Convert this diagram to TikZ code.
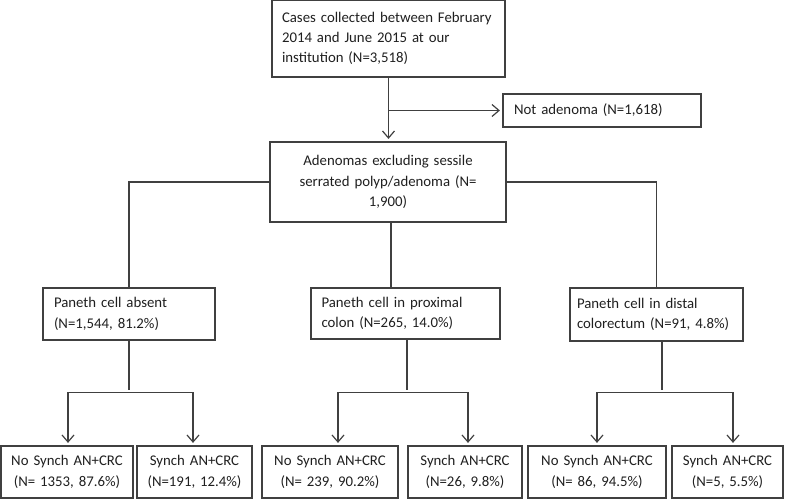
\documentclass[tikz,border=0pt]{standalone}
\usepackage{fontspec}
\setmainfont{Carlito}
\usepackage{tikz}
\usetikzlibrary{arrows.meta}
\definecolor{linegray}{HTML}{404040}

\begin{document}
\begin{tikzpicture}[x=1pt,y=-1pt]
		\useasboundingbox (0,0) rectangle (787,500);
		\begin{scope}[every node/.style={rectangle,draw=linegray,line width=1.2pt,text=black!88,
		              font=\fontsize{14.8}{20.3}\selectfont,inner ysep=2pt}]
		    \node[text width=213pt,inner xsep=10pt,align=left,minimum height=77pt] (cases) at (388.5,38.5) {Cases collected between February\\2014 and June 2015 at our\\institution (N=3,518)};
		    \node[text width=176pt,inner xsep=11pt,align=left,minimum height=33pt] (notad) at (602,110.5) {Not adenoma (N=1,618)};
		    \node[text width=228pt,inner xsep=4pt,align=center,minimum height=80pt] (aden) at (388,182) {Adenomas excluding sessile\\serrated polyp/adenoma (N=\\1,900)};
		    \node[text width=150pt,inner xsep=11pt,align=left,minimum height=52pt] (absent) at (129,314) {Paneth cell absent\\(N=1,544, 81.2\%)};
		    \node[text width=168pt,inner xsep=10.5pt,align=left,minimum height=51pt] (prox) at (405.5,313.5) {Paneth cell in proximal\\colon (N=265, 14.0\%)};
		    \node[text width=159pt,inner xsep=7pt,align=left,minimum height=53pt] (dist) at (656.5,314.5) {Paneth cell in distal\\colorectum (N=91, 4.8\%)};
		    \node[text width=126pt,inner xsep=3pt,align=center,minimum height=52pt] (absent-no) at (67,472) {No Synch AN+CRC\\(N= 1353, 87.6\%)};
		    \node[text width=109pt,inner xsep=3pt,align=center,minimum height=52pt] (absent-yes) at (194.5,472) {Synch AN+CRC\\(N=191, 12.4\%)};
		    \node[text width=130pt,inner xsep=3pt,align=center,minimum height=52pt] (prox-no) at (330,472) {No Synch AN+CRC\\(N= 239, 90.2\%)};
		    \node[text width=108pt,inner xsep=3pt,align=center,minimum height=52pt] (prox-yes) at (465,472) {Synch AN+CRC\\(N=26, 9.8\%)};
		    \node[text width=132pt,inner xsep=3pt,align=center,minimum height=52pt] (dist-no) at (597,472) {No Synch AN+CRC\\(N= 86, 94.5\%)};
		    \node[text width=105pt,inner xsep=3pt,align=center,minimum height=52pt] (dist-yes) at (727.5,472) {Synch AN+CRC\\(N=5, 5.5\%)};
		\end{scope}

		\begin{scope}[>={Straight Barb[length=7pt,width=12pt]},
		              every edge/.style={draw=linegray,line width=1.2pt},
		              linegray,line width=1.2pt,shorten >=2.5pt]
		    \path (cases.south) edge[->] (cases.south |- aden.north);
		    \path (cases.south |- notad.west) edge[->] (notad.west);
		    \draw[shorten >=0pt] (aden.west) -| (absent.north);
		    \draw[shorten >=0pt] (aden.east) -| (dist.north);
		    \path ([xshift=3pt]aden.south) edge[shorten >=0pt] ([xshift=3pt]aden.south |- prox.north);
		    % lower forks
		    \draw (absent.south) -- ++(0,52) coordinate (absent-fork);
		    \draw[->] (absent-fork) -| ([xshift=1pt]absent-no.north);
		    \draw[->] (absent-fork) -| ([xshift=-1.5pt]absent-yes.north);
		    \draw ([xshift=1.5pt]prox.south) -- ++(0,52.5) coordinate (prox-fork);
		    \draw[->] (prox-fork) -| ([xshift=8pt]prox-no.north);
		    \draw[->] (prox-fork) -| ([xshift=3pt]prox-yes.north);
		    \draw ([xshift=5.5pt]dist.south) -- ++(0,51) coordinate (dist-fork);
		    \draw[->] (dist-fork) -| (dist-no.north);
		    \draw[->] (dist-fork) -| ([xshift=5.5pt]dist-yes.north);
		\end{scope}
\end{tikzpicture}
\end{document}
